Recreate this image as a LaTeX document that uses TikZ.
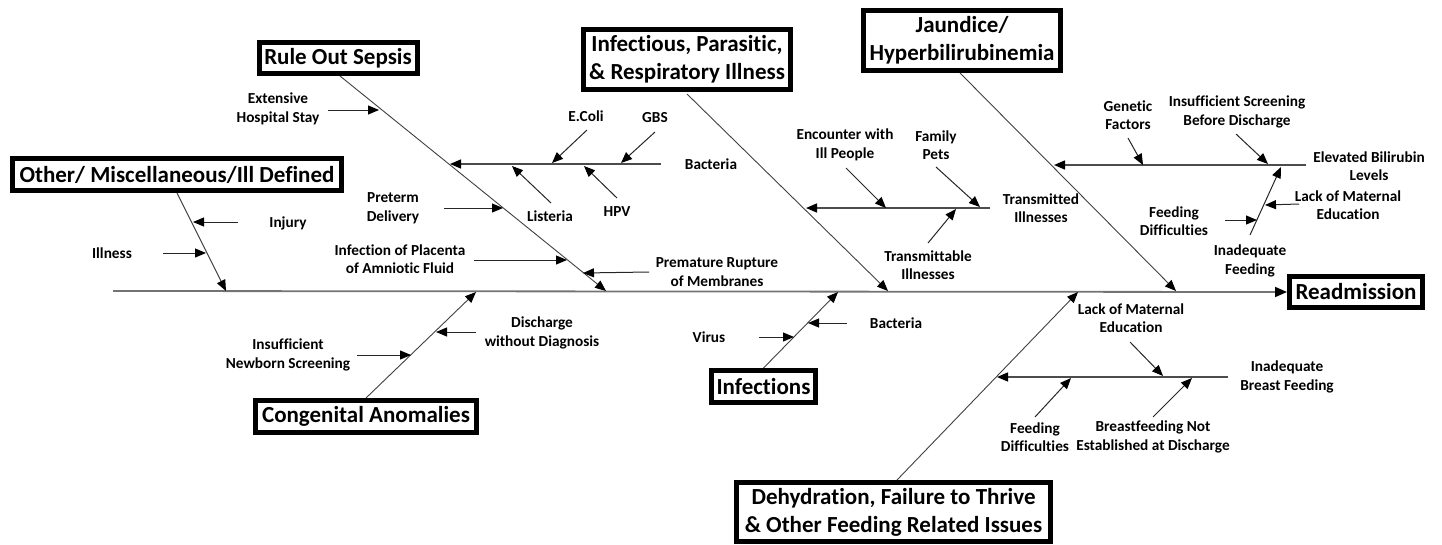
\documentclass[tikz,border=0pt]{standalone}
\usepackage{fontspec}
\setmainfont{Carlito}[Ligatures=NoCommon]
\usetikzlibrary{arrows.meta}

\begin{document}
\begin{tikzpicture}[x=1pt,y=-1pt,
  catbox/.style={draw=black, line width=5pt, fill=white, align=center,
    inner sep=0pt, font=\bfseries\fontsize{23}{28}\selectfont},
  lbl/.style={align=center, inner sep=0pt, font=\bfseries\fontsize{15.3}{18.5}\selectfont},
  tip/.style={-{Triangle[length=11pt,width=9pt,color=black]}},
  spine/.style={draw=black!55, line width=1.8pt, -{Triangle[length=12pt,width=10pt,color=black]}},
  bone/.style={draw=black!75, line width=0.9pt, tip},
  branch/.style={draw=black!70, line width=1.5pt, tip},
  twig/.style={draw=black!85, line width=1pt, tip}
]
\useasboundingbox (0,0) rectangle (1442,544);

% ---------- category boxes ----------
\node[catbox, minimum width=158pt, minimum height=31pt] (sepsis) at (338,58) {Rule Out Sepsis};
\node[catbox, minimum width=329pt, minimum height=32pt] (other) at (177,174.5) {Other/ Miscellaneous/Ill Defined};
\node[catbox, minimum width=207pt, minimum height=60pt] (infect) at (687,59.5) {Infectious, Parasitic,\\\& Respiratory Illness};
\node[catbox, minimum width=197pt, minimum height=60pt] (jaund) at (962,40.5) {Jaundice/\\Hyperbilirubinemia};
\node[catbox, minimum width=133pt, minimum height=31pt] (readm) at (1356,292) {Readmission};
\node[catbox, minimum width=221pt, minimum height=32pt] (cong) at (366,416.5) {Congenital Anomalies};
\node[catbox, minimum width=104pt, minimum height=32pt] (infs) at (763.5,386.5) {Infections};
\node[catbox, minimum width=314pt, minimum height=59pt] (dehyd) at (893.5,512) {Dehydration, Failure to Thrive\\\& Other Feeding Related Issues};

% ---------- spine ----------
\coordinate (sp0) at (113,291);
\draw[spine] (sp0) -- (readm.west);

% ---------- bones meeting the spine ----------
\coordinate (otherH) at (226,291);
\coordinate (sepsisH) at (606,291);
\coordinate (infectH) at (888,291);
\coordinate (jaundH) at (1176,291);
\coordinate (congH) at (476,292);
\coordinate (infsH) at (838,292);
\coordinate (dehydH) at (1078,292);
\draw[bone] (other.south) -- (otherH);
\draw[bone] ([xshift=2pt]sepsis.south) -- (sepsisH);
\draw[bone] ([yshift=-2pt]infect.south) -- (infectH);
\draw[bone] ([xshift=-2pt]jaund.south) -- (jaundH);
\draw[bone] (cong.north) -- (congH);
\draw[bone] (infs.north) -- (infsH);
\draw[bone] ([xshift=3.5pt]dehyd.north) -- (dehydH);

% ---------- Other / Miscellaneous ----------
\node[lbl] (injury) at (288,223) {Injury};
\node[lbl] (illness) at (112,253) {Illness};
\coordinate (injA) at (238,222); \coordinate (injB) at (193,222);
\coordinate (illA) at (163,253); \coordinate (illB) at (206,253);
\draw[twig] (injA) -- (injB);
\draw[twig] (illA) -- (illB);

% ---------- Rule Out Sepsis ----------
\node[lbl] (stay) at (278,109) {Extensive\\Hospital Stay};
\node[lbl] (bact1) at (711,164) {Bacteria};
\node[lbl] (ecoli) at (586,116) {E.Coli};
\node[lbl] (gbs) at (655,118) {GBS};
\node[lbl] (listeria) at (550,216) {Listeria};
\node[lbl] (hpv) at (617,212) {HPV};
\node[lbl] (preterm) at (393,208) {Preterm\\Delivery};
\node[lbl] (placenta) at (400,259) {Infection of Placenta\\of Amniotic Fluid};
\node[lbl] (prom) at (717,272) {Premature Rupture\\of Membranes};
\coordinate (stayA) at (328,110); \coordinate (stayB) at (379,110);
\coordinate (bacA) at (661,164); \coordinate (bacB) at (450,164);
\coordinate (ecA) at (587,130); \coordinate (ecB) at (552,163);
\coordinate (gbA) at (655,132); \coordinate (gbB) at (621,163);
\coordinate (liA) at (551,203); \coordinate (liB) at (512,166);
\coordinate (hpA) at (617,198); \coordinate (hpB) at (584,166);
\coordinate (ptA) at (444,208); \coordinate (ptB) at (503,208);
\coordinate (plA) at (474,260); \coordinate (plB) at (567,260);
\coordinate (prA) at (649,272); \coordinate (prB) at (583,273);
\draw[twig] (stayA) -- (stayB);
\draw[branch] (bacA) -- (bacB);
\draw[twig] (ecA) -- (ecB);
\draw[twig] (gbA) -- (gbB);
\draw[twig] (liA) -- (liB);
\draw[twig] (hpA) -- (hpB);
\draw[twig] (ptA) -- (ptB);
\draw[twig] (plA) -- (plB);
\draw[twig] (prA) -- (prB);

% ---------- Infectious, Parasitic & Respiratory ----------
\node[lbl] (transm) at (1041,208) {Transmitted\\Illnesses};
\node[lbl] (encounter) at (845,145) {Encounter with\\Ill People};
\node[lbl] (pets) at (936,145) {Family\\Pets};
\node[lbl] (transmb) at (928,265) {Transmittable\\Illnesses};
\coordinate (trA) at (990,208); \coordinate (trB) at (806,208);
\coordinate (enA) at (846,168); \coordinate (enB) at (886,208);
\coordinate (peA) at (936,167); \coordinate (peB) at (980,207);
\coordinate (tbA) at (928,243); \coordinate (tbB) at (956,209);
\draw[branch] (trA) -- (trB);
\draw[twig] (enA) -- (enB);
\draw[twig] (peA) -- (peB);
\draw[twig] (tbA) -- (tbB);

% ---------- Jaundice / Hyperbilirubinemia ----------
\node[lbl] (bili) at (1369,166) {Elevated Bilirubin\\Levels};
\node[lbl] (genetic) at (1128,115) {Genetic\\Factors};
\node[lbl] (screen) at (1237,112) {Insufficient Screening\\Before Discharge};
\node[lbl] (inadeq) at (1250,261) {Inadequate\\Feeding};
\node[lbl] (lme1) at (1348,205) {Lack of Maternal\\Education};
\node[lbl] (fd1) at (1174,221) {Feeding\\Difficulties};
\coordinate (biA) at (1306,165); \coordinate (biB) at (1054,165);
\coordinate (geA) at (1128,138); \coordinate (geB) at (1143,165);
\coordinate (scA) at (1236,134); \coordinate (scB) at (1268,164);
\coordinate (ifA) at (1250,235); \coordinate (ifB) at (1281,167);
\coordinate (lmA) at (1299,204); \coordinate (lmB) at (1265,205);
\coordinate (fdA) at (1225,220); \coordinate (fdB) at (1257,220);
\draw[branch] (biA) -- (biB);
\draw[twig] (geA) -- (geB);
\draw[twig] (scA) -- (scB);
\draw[twig] (ifA) -- (ifB);
\draw[twig] (lmA) -- (lmB);
\draw[twig] (fdA) -- (fdB);

% ---------- Congenital Anomalies ----------
\node[lbl] (nodiag) at (542,333) {Discharge\\without Diagnosis};
\node[lbl] (newborn) at (288,355) {Insufficient\\Newborn Screening};
\coordinate (ndA) at (476,332); \coordinate (ndB) at (436,332);
\coordinate (nbA) at (357,355); \coordinate (nbB) at (411,355);
\draw[twig] (ndA) -- (ndB);
\draw[twig] (nbA) -- (nbB);

% ---------- Infections ----------
\node[lbl] (bact2) at (896,323) {Bacteria};
\node[lbl] (virus) at (709,337) {Virus};
\coordinate (b2A) at (847,323); \coordinate (b2B) at (808,323);
\coordinate (viA) at (759,337); \coordinate (viB) at (794,337);
\draw[twig] (b2A) -- (b2B);
\draw[twig] (viA) -- (viB);

% ---------- Dehydration / Feeding ----------
\node[lbl] (ibf) at (1287,377) {Inadequate\\Breast Feeding};
\node[lbl] (lme2) at (1131,318) {Lack of Maternal\\Education};
\node[lbl] (fd2) at (1035,437) {Feeding\\Difficulties};
\node[lbl] (bne) at (1153,437) {Breastfeeding Not\\Established at Discharge};
\coordinate (ibA) at (1228,377); \coordinate (ibB) at (997,377);
\coordinate (l2A) at (1130,342); \coordinate (l2B) at (1163,376);
\coordinate (f2A) at (1035,417); \coordinate (f2B) at (1071,378);
\coordinate (bnA) at (1153,417); \coordinate (bnB) at (1192,378);
\draw[branch] (ibA) -- (ibB);
\draw[twig] (l2A) -- (l2B);
\draw[twig] (f2A) -- (f2B);
\draw[twig] (bnA) -- (bnB);
\end{tikzpicture}
\end{document}
